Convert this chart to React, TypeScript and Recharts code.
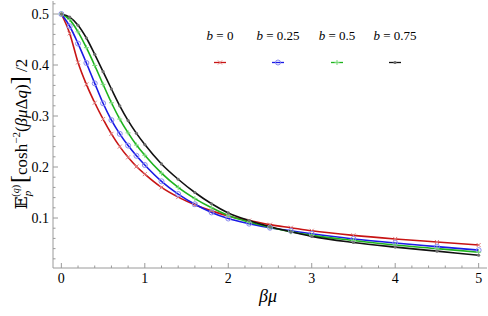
import { LineChart, Line, XAxis, YAxis } from 'recharts'

// beta*mu grid
const betaMu = [0, 0.1, 0.2, 0.3, 0.4, 0.5, 0.6, 0.7, 0.8, 0.9, 1.0, 1.2, 1.4, 1.6, 1.8, 2.0, 2.25, 2.5, 2.75, 3, 3.5, 4, 4.5, 5]

const b0 = [0.5, 0.462, 0.405, 0.362, 0.326, 0.294, 0.265, 0.24, 0.219, 0.201, 0.186, 0.16, 0.141, 0.126, 0.114, 0.104, 0.095, 0.087, 0.081, 0.075, 0.066, 0.059, 0.053, 0.047]
const b025 = [0.5, 0.476, 0.442, 0.404, 0.364, 0.325, 0.292, 0.265, 0.242, 0.222, 0.204, 0.172, 0.147, 0.127, 0.111, 0.099, 0.089, 0.081, 0.075, 0.069, 0.059, 0.051, 0.044, 0.037]
const b05 = [0.5, 0.489, 0.465, 0.434, 0.399, 0.362, 0.326, 0.294, 0.267, 0.243, 0.223, 0.188, 0.16, 0.138, 0.12, 0.105, 0.092, 0.082, 0.073, 0.066, 0.056, 0.047, 0.04, 0.033]
const b075 = [0.5, 0.494, 0.478, 0.453, 0.421, 0.387, 0.353, 0.32, 0.291, 0.266, 0.244, 0.206, 0.176, 0.15, 0.128, 0.11, 0.095, 0.083, 0.073, 0.064, 0.052, 0.043, 0.035, 0.027]

const xTicks = [0, 0.2, 0.4, 0.6, 0.8, 1, 1.2, 1.4, 1.6, 1.8, 2, 2.2, 2.4, 2.6, 2.8, 3, 3.2, 3.4, 3.6, 3.8, 4, 4.2, 4.4, 4.6, 4.8, 5]
const yTicks = [0.02, 0.04, 0.06, 0.08, 0.1, 0.12, 0.14, 0.16, 0.18, 0.2, 0.22, 0.24, 0.26, 0.28, 0.3, 0.32, 0.34, 0.36, 0.38, 0.4, 0.42, 0.44, 0.46, 0.48, 0.5, 0.52]

const legendLabels = ['0', '0.25', '0.5', '0.75']

const data = betaMu.map((x, i) => ({ x, b0: b0[i], b025: b025[i], b05: b05[i], b075: b075[i] }))

const FRAME = '#9a9a9a'
const serif = { fontFamily: "'Times New Roman', 'Liberation Serif', 'Noto Serif', 'DejaVu Serif', Times, serif" }

const series = [
  { key: 'b0', color: '#c81414', mark: '#e07a7a', shape: 'x' },
  { key: 'b025', color: '#1a1ae6', mark: '#8a8af0', shape: 'o' },
  { key: 'b05', color: '#1eb41e', mark: '#7ad87a', shape: '+' },
  { key: 'b075', color: '#111111', mark: '#6e6e6e', shape: '.' },
]

function Marker({ cx, cy, shape, color }: any) {
  if (cx == null || cy == null) return null
  if (shape === 'x')
    return (
      <g stroke={color} strokeWidth={1}>
        <line x1={cx - 2} y1={cy - 2} x2={cx + 2} y2={cy + 2} />
        <line x1={cx - 2} y1={cy + 2} x2={cx + 2} y2={cy - 2} />
      </g>
    )
  if (shape === 'o') return <circle cx={cx} cy={cy} r={2.5} fill="none" stroke={color} strokeWidth={1} />
  if (shape === '+')
    return (
      <g stroke={color} strokeWidth={1}>
        <line x1={cx - 2.5} y1={cy} x2={cx + 2.5} y2={cy} />
        <line x1={cx} y1={cy - 2.5} x2={cx} y2={cy + 2.5} />
      </g>
    )
  return <circle cx={cx} cy={cy} r={1.6} fill={color} />
}

const isMajorX = (v: number) => Math.abs(v - Math.round(v)) < 1e-6
const isMajorY = (v: number) => Math.abs(v * 10 - Math.round(v * 10)) < 1e-6

function BottomTick({ x, y, payload }: any) {
  const major = isMajorX(payload.value)
  return (
    <g>
      <line x1={x} x2={x} y1={y} y2={y - (major ? 5 : 2.5)} stroke={FRAME} />
      {major && (
        <text x={x} y={y + 15} textAnchor="middle" fontSize={14} style={serif} fill="#000">
          {payload.value}
        </text>
      )}
    </g>
  )
}

function TopTick({ x, y, payload }: any) {
  const major = isMajorX(payload.value)
  return <line x1={x} x2={x} y1={y} y2={y + (major ? 5 : 2.5)} stroke={FRAME} />
}

function LeftTick({ x, y, payload }: any) {
  const major = isMajorY(payload.value)
  return (
    <g>
      <line x1={x} x2={x + (major ? 5 : 2.5)} y1={y} y2={y} stroke={FRAME} />
      {major && (
        <text x={x - 4} y={y + 5} textAnchor="end" fontSize={14} style={serif} fill="#000">
          {Number(payload.value).toFixed(1)}
        </text>
      )}
    </g>
  )
}

function RightTick({ x, y, payload }: any) {
  const major = isMajorY(payload.value)
  return <line x1={x} x2={x - (major ? 5 : 2.5)} y1={y} y2={y} stroke={FRAME} />
}

const legendX = [220, 278, 337, 395]

function Overlay() {
  return (
    <svg width={488} height={316} style={{ position: 'absolute', left: 0, top: 0, pointerEvents: 'none' }}>
      {series.map((s, i) => (
        <g key={s.key}>
          <text x={legendX[i]} y={40} textAnchor="middle" fontSize={13} style={serif}>
            <tspan fontStyle="italic">b</tspan>
            <tspan> = {legendLabels[i]}</tspan>
          </text>
          <line x1={legendX[i] - 6} x2={legendX[i] + 6} y1={62.5} y2={62.5} stroke={s.color} strokeWidth={1.3} />
          <Marker cx={legendX[i]} cy={62.5} shape={s.shape} color={s.mark} />
        </g>
      ))}
      <text x={268} y={302} textAnchor="middle" fontSize={18} fontStyle="italic" style={serif}>
        βμ
      </text>
      <text transform="translate(27,134) rotate(-90)" textAnchor="middle" fontSize={17} style={serif}>
        <tspan>𝔼</tspan>
        <tspan dy={4} fontSize={11} fontStyle="italic">p</tspan>
        <tspan dx={-6} dy={-12} fontSize={10}>(</tspan>
        <tspan fontSize={10} fontStyle="italic">q</tspan>
        <tspan fontSize={10}>)</tspan>
        <tspan dx={2} dy={8} fontSize={24}>[</tspan>
        <tspan>cosh</tspan>
        <tspan dy={-7} fontSize={11}>−2</tspan>
        <tspan dy={7}>(</tspan>
        <tspan fontStyle="italic">βμ</tspan>
        <tspan>Δ</tspan>
        <tspan fontStyle="italic">q</tspan>
        <tspan>)</tspan>
        <tspan fontSize={24}>]</tspan>
        <tspan> /2</tspan>
      </text>
    </svg>
  )
}

export default function App() {
  return (
    <div style={{ position: 'absolute', left: 0, top: 0, width: 488, height: 316, background: '#fff' }}>
      <LineChart width={488} height={316} data={data} margin={{ top: 1, right: 1, left: 0, bottom: 0 }}>
        <XAxis
          xAxisId="main"
          dataKey="x"
          type="number"
          domain={[-0.1, 5.1]}
          ticks={xTicks}
          interval={0}
          height={48}
          tickSize={0}
          tickMargin={0}
          stroke={FRAME}
          tickLine={false}
          tick={<BottomTick />}
        />
        <XAxis
          xAxisId="top"
          orientation="top"
          dataKey="x"
          type="number"
          domain={[-0.1, 5.1]}
          ticks={xTicks}
          interval={0}
          height={0}
          tickSize={0}
          tickMargin={0}
          stroke={FRAME}
          tickLine={false}
          tick={<TopTick />}
        />
        <YAxis
          yAxisId="main"
          type="number"
          domain={[0.002, 0.5255]}
          ticks={yTicks}
          interval={0}
          width={53}
          tickSize={0}
          tickMargin={0}
          stroke={FRAME}
          tickLine={false}
          tick={<LeftTick />}
        />
        <YAxis
          yAxisId="right"
          orientation="right"
          type="number"
          domain={[0.002, 0.5255]}
          ticks={yTicks}
          interval={0}
          width={0}
          tickSize={0}
          tickMargin={0}
          stroke={FRAME}
          tickLine={false}
          tick={<RightTick />}
        />
        {series.map((s) => (
          <Line
            key={s.key}
            xAxisId="main"
            yAxisId="main"
            type="monotone"
            dataKey={s.key}
            stroke={s.color}
            strokeWidth={1.6}
            dot={(p: any) => <Marker key={`${s.key}-${p.index}`} cx={p.cx} cy={p.cy} shape={s.shape} color={s.mark} />}
            activeDot={false}
            isAnimationActive={false}
          />
        ))}
      </LineChart>
      <Overlay />
    </div>
  )
}
